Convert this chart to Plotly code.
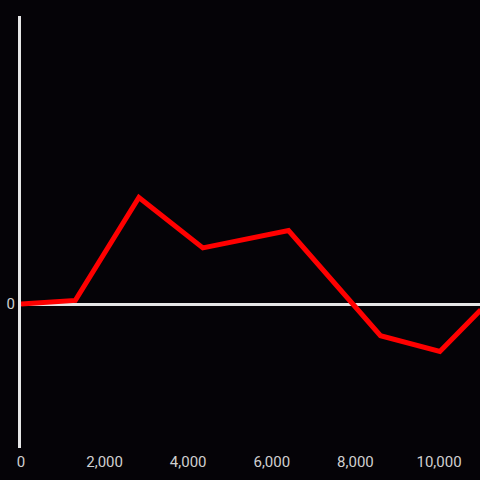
import plotly.graph_objects as go

x_vals = [0, 1300, 2820, 4350, 6400, 8600, 10020, 11000]
y_vals = [0, 2.5, 74, 39, 51, -22, -33, -4]
x_ticks = [0, 2000, 4000, 6000, 8000, 10000]
x_labels = ["0", "2,000", "4,000", "6,000", "8,000", "10,000"]

fig = go.Figure(go.Scatter(
    x=x_vals, y=y_vals, mode="lines",
    line=dict(color="#ff0000", width=5),
))

fig.update_layout(
    width=480, height=480,
    paper_bgcolor="#050307", plot_bgcolor="#050307",
    margin=dict(l=21, r=0, t=16, b=32),
    showlegend=False,
    font=dict(family="Roboto", color="#d0d0d0", size=15),
)
fig.update_xaxes(
    range=[0, 10980], tickvals=x_ticks, ticktext=x_labels,
    showgrid=False, zeroline=False, showline=False, ticks="",
    ticklabelstandoff=3,
)
fig.update_yaxes(
    range=[-100, 200], tickvals=[0], ticktext=["0"],
    showgrid=False, zeroline=True, zerolinecolor="#e6e6e6", zerolinewidth=3,
    showline=True, linecolor="#e6e6e6", linewidth=3, ticks="",
)

fig.write_html("out.html", config={"displayModeBar": False},
               post_script="document.body.style.margin='0';")
